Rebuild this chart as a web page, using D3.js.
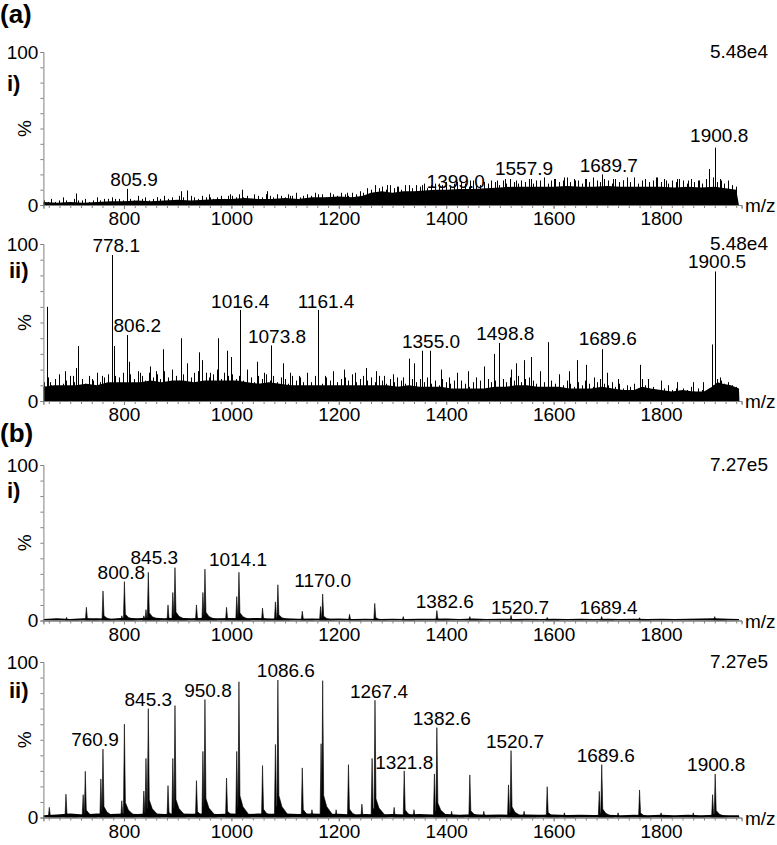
<!DOCTYPE html>
<html>
<head>
<meta charset="utf-8">
<script src="https://cdn.jsdelivr.net/npm/d3@7"></script>
<style>
  body { margin: 0; background: #fff; }
  text { font-family: "Liberation Sans", Arial, sans-serif; fill: #000; }
</style>
</head>
<body>
<div id="chart"></div>
<script>
// shared axis values
const mzRange = [650, 1950]
const mzTicks = [800, 1000, 1200, 1400, 1600, 1800]
const mzMinor = d3.range(660, 1950, 20)
const pctTicks = d3.range(0, 101, 10)

// (a) i)  --  [m/z, % intensity]
const aiMax = "5.48e4"
const aiNoise = [[650,2],[675,1.5],[700,2],[725,1.5],[750,2],[775,2.5],[800,2.5],[825,3],[850,2.5],[875,3],[900,3.5],[925,3],[950,3.5],[975,4],[1000,4],[1025,4.5],[1050,4],[1075,4],[1100,4.5],[1125,4],[1150,5],[1175,5],[1200,5.5],[1225,5],[1245,6],[1260,8],[1280,9],[1300,8],[1320,9],[1340,9],[1360,9.5],[1380,10],[1400,10],[1425,10.5],[1450,10.5],[1475,11],[1500,11.5],[1525,12],[1550,12],[1575,12],[1600,12],[1625,12.5],[1650,12],[1675,12],[1700,12.5],[1725,12],[1750,12],[1775,12],[1800,12],[1825,11.5],[1850,12],[1875,11.5],[1900,12],[1920,11],[1940,10],[1945,0]]
// noise grass, one value every 7 m/z from 651
const aiGrassStart = 651, aiGrassStep = 7
const aiGrass = [3,2,4,2,3,5,3,2,4,3, 3,4,2,3,5,3,4,3,5,4, 4,3,5,4,3,6,4,5,3,4, 5,4,6,4,5,3,6,5,4,6,
  5,4,6,5,7,4,5,6,4,6, 6,5,7,5,6,4,7,6,5,7, 6,5,7,6,5,7,6,8,5,6, 7,6,8,6,7,5,8,7,6,8,
  7,6,8,7,9,8,11,10,12,11, 12,10,13,11,12,10,13,12,11,13, 12,14,11,13,12,14,13,15,12,14, 13,15,14,12,16,14,13,15,14,16,
  15,13,16,14,17,15,14,16,15,17, 14,16,15,18,14,16,17,15,16,18, 15,17,16,14,17,15,18,16,15,17, 16,14,17,15,16,18,15,17,14,16,
  17,15,16,18,15,17,14,16,15,17, 16,14,17,15,16,14,17,16,18,15, 16,14,15,13,12]
const aiPeaks = [[711,7.5],[770,4],[805.9,10.5],[862,5],[906,9],[918,9.5],[960,5],[998,7],[1019,10],[1067,9],[1110,6],[1161,7],[1216,8],[1268,13],[1290,13],[1310,12],[1330,13],[1355,13],[1380,14],[1399,11],[1420,15],[1445,16],[1470,15],[1495,16],[1510,17],[1530,16],[1557.9,17],[1575,16],[1600,17],[1620,18],[1640,16],[1660,17],[1689.7,20],[1710,17],[1730,16],[1750,18],[1770,17],[1790,18],[1810,16],[1830,17],[1850,16],[1870,16],[1890,23.5],[1900.8,37.5],[1910,17],[1925,16]]
const aiLabels = [805.9, 1399.0, 1557.9, 1689.7, 1900.8]

// (a) ii)
const aiiMax = "5.48e4"
const aiiNoise = [[650,9],[670,10],[690,10],[710,10],[730,11],[750,10],[770,12],[790,12],[810,12],[830,12],[850,13],[870,12],[890,13],[910,13],[930,12],[950,13],[970,13],[990,13],[1010,13],[1030,12],[1050,11],[1070,12],[1090,11],[1110,10],[1130,10],[1150,10],[1170,10],[1190,10],[1210,10],[1230,10],[1250,10],[1270,10],[1290,10],[1310,9],[1330,10],[1350,9],[1370,9],[1390,9],[1410,8],[1430,8],[1450,8],[1470,8],[1490,9],[1510,9],[1530,10],[1550,10],[1570,9],[1590,9],[1610,9],[1630,8],[1650,8],[1670,8],[1690,9],[1710,8],[1730,7],[1750,7],[1765,9],[1780,8],[1800,7],[1820,6],[1840,7],[1860,6],[1880,6],[1895,9],[1905,12],[1915,11],[1930,10],[1945,8],[1946,0]]
const aiiGrassStart = 651, aiiGrassStep = 7
const aiiGrass = [12,15,10,14,17,11,13,16,12,15, 14,11,16,13,18,12,15,17,13,16, 15,18,13,17,14,19,16,13,18,15, 17,14,19,15,18,16,13,17,20,15,
  16,19,14,18,15,17,20,14,18,16, 17,14,16,13,18,15,12,16,14,17, 13,16,12,15,14,11,16,13,15,12, 14,12,16,13,11,15,13,16,12,14,
  15,13,17,12,14,16,13,15,12,16, 13,11,14,12,15,13,11,16,14,12, 14,12,15,11,13,10,14,12,11,13, 10,13,11,9,12,10,13,11,14,12,
  13,11,14,12,15,13,16,12,14,15, 13,11,14,12,10,13,11,12,10,13, 11,9,12,10,13,11,9,12,14,11, 10,12,9,11,8,10,9,11,8,14,
  10,8,9,7,9,8,10,7,8,6, 8,7,9,6,8,7,6,8,10,14, 13,11,12,10,9]
const aiiPeaks = [[657,60],[662,12],[690,19],[705,16],[710,21],[714,35],[740,14],[760,16],[778.1,93],[782,35],[806.2,42],[810,25],[830,18],[849,22],[860,19],[872,33],[890,20],[906,40],[918,24],[930,18],[940,31],[946,26],[960,18],[975,40],[992,32],[1000,28],[1016.4,58],[1030,20],[1047,25],[1060,18],[1073.8,35.4],[1096,24],[1110,18],[1125,16],[1140,18],[1161.4,58],[1175,16],[1190,19],[1210,20],[1230,18],[1250,21],[1270,19],[1285,16],[1300,17],[1320,15],[1330,27],[1340,24],[1355,32],[1370,32],[1390,20],[1405,15],[1420,18],[1440,19],[1455,15],[1470,22],[1489,30],[1498.8,37],[1520,20],[1530,24],[1545,26],[1558,28],[1575,19],[1590,37.5],[1610,17],[1628,19],[1643,26],[1660,23],[1675,15],[1689.6,33],[1700,18],[1720,14],[1760,23],[1775,14],[1800,13],[1830,12],[1860,12],[1878,12],[1895,36],[1900.5,82.5],[1910,15]]
const aiiLabels = [778.1, 806.2, 1016.4, 1073.8, 1161.4, 1355.0, 1498.8, 1689.6, 1900.5]

// (b) i)
const biMax = "7.27e5"
const biNoise = [[650,1],[675,1.5],[700,1],[725,1.5],[750,1.5],[775,1.2],[800,1.8],[825,1.5],[850,2],[875,1.5],[900,1.8],[925,1.5],[950,1.8],[975,1.5],[1000,1.6],[1025,1.5],[1050,1.6],[1075,1.3],[1100,1.5],[1125,1.2],[1150,1.3],[1175,1.2],[1200,1.3],[1225,1],[1250,1.2],[1275,1],[1300,1.2],[1325,1],[1350,1.2],[1375,1.2],[1400,1.3],[1425,1],[1450,1.3],[1475,1],[1500,1.2],[1525,1],[1550,1.2],[1575,1],[1600,1.2],[1625,1],[1650,1.2],[1675,1],[1700,1.2],[1725,1],[1750,1.2],[1775,1],[1800,1.2],[1825,1],[1850,1.2],[1875,1.3],[1900,1.5],[1925,1.2],[1945,1],[1946,0]]
const biPeaks = [[693,2],[730,8.5],[761,19],[796,3],[800.8,25],[837,3],[841,7],[845.3,31],[882,10],[891,18],[895,34],[935,10],[947,18],[950.8,33],[991,8.5],[1010,15.4],[1014.1,31],[1058,8],[1082,12],[1086.6,23],[1132,6],[1166,9],[1170.0,17],[1220,4],[1267,11],[1320,2.5],[1382.6,6.4],[1444,2.5],[1520.7,3.2],[1588,2],[1689.4,2.6],[1760,1.8],[1900,2.5]]
const biLabels = [800.8, 845.3, 1014.1, 1170.0, 1382.6, 1520.7, 1689.4]

// (b) ii)
const biiMax = "7.27e5"
const biiNoise = [[650,1.5],[675,2],[700,2.5],[725,2],[750,2.5],[775,2.2],[800,2.5],[825,2.2],[850,2.8],[875,2.3],[900,2.6],[925,2.4],[950,2.6],[975,2.3],[1000,2.6],[1025,2.3],[1050,2.5],[1075,2.4],[1100,2.6],[1125,2.2],[1150,2.5],[1175,2.2],[1200,2.4],[1225,2],[1250,2.2],[1275,2],[1300,2.2],[1325,2],[1350,2.3],[1375,2],[1400,2.2],[1425,1.8],[1450,2.1],[1475,1.8],[1500,2],[1525,1.7],[1550,2],[1575,1.7],[1600,1.9],[1625,1.6],[1650,1.8],[1675,1.6],[1700,1.8],[1725,1.5],[1750,1.8],[1775,1.5],[1800,1.7],[1825,1.5],[1850,1.7],[1875,1.5],[1900,1.8],[1925,1.5],[1945,1.4],[1946,0]]
const biiPeaks = [[661,6.5],[692,15],[724,14.7],[728,29.7],[757,24.8],[760.9,44],[796,10.8],[800.8,60],[837,17],[841,38],[845.3,70],[882,20.5],[891,38],[895,72],[935,23.7],[947,42.5],[950.8,75.9],[991,25.4],[1010,42.5],[1014.1,87.3],[1058,33.4],[1082,47],[1086.6,88.4],[1132,31.9],[1150,5],[1167,47.4],[1170,88],[1195,5],[1218,34],[1243,8.6],[1262,38],[1267.4,75.4],[1303,6.5],[1321.8,30],[1340,5],[1378,28],[1382.6,57.8],[1410,4],[1444,27.4],[1470,4],[1516,21],[1520.7,43],[1545,4],[1588,19.8],[1620,3],[1685,16.8],[1689.6,34],[1720,3],[1760,17.7],[1800,3],[1860,3],[1896,14.7],[1900.8,28]]
const biiLabels = [760.9, 845.3, 950.8, 1086.6, 1267.4, 1321.8, 1382.6, 1520.7, 1689.6, 1900.8]

// layout
const width = 777, height = 845
const xLeft = 43.4, xRight = 741.6
const fontSize = 19

const panels = [
  { tag: "i)", max: aiMax, noise: aiNoise, grass: aiGrass, grassStart: aiGrassStart, grassStep: aiGrassStep,
    peaks: aiPeaks, labels: aiLabels, top: 52, base: 205, tagDy: 31, shape: "stick",
    nudge: { 805.9: [7, -3], 1399.0: [10, 0], 1557.9: [-7, -4], 1689.7: [7, -2], 1900.8: [4, -6] } },
  { tag: "ii)", max: aiiMax, noise: aiiNoise, grass: aiiGrass, grassStart: aiiGrassStart, grassStep: aiiGrassStep,
    peaks: aiiPeaks, labels: aiiLabels, top: 244, base: 401, tagDy: 26, shape: "stick",
    nudge: { 778.1: [4, -3], 806.2: [10, -3], 1016.4: [0, -2], 1073.8: [6, -2], 1161.4: [8, -2], 1355.0: [9, -3], 1498.8: [6, -3], 1689.6: [6, -4], 1900.5: [2, -3] } },
  { tag: "i)", max: biMax, noise: biNoise, grass: [], peaks: biPeaks, labels: biLabels, top: 465, base: 620.5, tagDy: 25, shape: "profile",
    nudge: { 800.8: [-3, -3], 845.3: [6, -8], 1014.1: [-1, -6], 1170.0: [0, -7], 1382.6: [8, -3], 1520.7: [9, -2], 1689.4: [7, -2] } },
  { tag: "ii)", max: biiMax, noise: biiNoise, grass: [], peaks: biiPeaks, labels: biiLabels, top: 662, base: 817.5, tagDy: 28, shape: "profile",
    nudge: { 760.9: [-8, -3], 845.3: [0, -3], 950.8: [3, -2], 1086.6: [8, -3], 1267.4: [4, -2], 1321.8: [0, -2], 1382.6: [5, -3], 1520.7: [4, -3], 1689.6: [4, -3], 1900.8: [1, -3] } }
]

const svg = d3.select("#chart")
  .append("svg")
  .attr("width", width)
  .attr("height", height)

const x = d3.scaleLinear().domain(mzRange).range([xLeft, xRight])

// panel letters
svg.append("text").attr("x", 0).attr("y", 23).style("font-size", "26px").style("font-weight", "bold").text("(a)")
svg.append("text").attr("x", 0).attr("y", 442).style("font-size", "26px").style("font-weight", "bold").text("(b)")

panels.forEach(p => {
  const y = d3.scaleLinear().domain([0, 100]).range([p.base, p.top])
  const g = svg.append("g")

  // dense noise floor
  g.append("path")
    .datum(p.noise)
    .attr("d", d3.area().x(d => x(d[0])).y0(p.base).y1(d => y(d[1])))
    .attr("fill", "#000")

  // noise grass on top of the floor
  g.selectAll("line.gr")
    .data(p.grass)
    .join("line")
    .attr("class", "gr")
    .attr("x1", (d, i) => Math.round(x(p.grassStart + i * p.grassStep)) + 0.5)
    .attr("x2", (d, i) => Math.round(x(p.grassStart + i * p.grassStep)) + 0.5)
    .attr("y1", p.base)
    .attr("y2", d => y(d))
    .attr("stroke", "#000")
    .attr("stroke-width", 1)

  if (p.shape === "stick") {
    g.selectAll("line.pk")
      .data(p.peaks)
      .join("line")
      .attr("class", "pk")
      .attr("x1", d => Math.round(x(d[0])) + 0.5)
      .attr("x2", d => Math.round(x(d[0])) + 0.5)
      .attr("y1", p.base)
      .attr("y2", d => y(d[1]))
      .attr("stroke", "#000")
      .attr("stroke-width", 1)
  } else {
    // narrow peak with a little tail on the high-mass side
    g.selectAll("path.pk")
      .data(p.peaks)
      .join("path")
      .attr("class", "pk")
      .attr("d", d => {
        const px = x(d[0]), h = d[1]
        return "M" + (px - 1) + "," + p.base +
          "L" + px + "," + y(h) +
          "L" + (px + 1) + "," + y(h * 0.16) +
          "L" + (px + 4) + "," + y(h * 0.08) +
          "L" + (px + 9) + "," + y(h * 0.03) +
          "L" + (px + 12) + "," + p.base + "Z"
      })
      .attr("fill", "#000")
      .attr("stroke", "#000")
      .attr("stroke-width", 0.6)
  }

  // peak labels
  g.selectAll("text.lab")
    .data(p.labels)
    .join("text")
    .attr("class", "lab")
    .attr("text-anchor", "middle")
    .style("font-size", fontSize + "px")
    .attr("x", d => x(d) + (p.nudge[d] ? p.nudge[d][0] : 0))
    .attr("y", d => {
      const pk = p.peaks.find(q => q[0] === d)
      return y(pk ? pk[1] : 0) + (p.nudge[d] ? p.nudge[d][1] : -3)
    })
    .text(d => d3.format(".1f")(d))

  // bottom axis: minor ticks, then labelled ticks
  const minor = g.append("g")
    .attr("transform", "translate(0," + p.base + ")")
    .call(d3.axisBottom(x).tickValues(mzMinor).tickSize(3).tickFormat(""))
  const major = g.append("g")
    .attr("transform", "translate(0," + p.base + ")")
    .call(d3.axisBottom(x).tickValues(mzTicks).tickSize(4).tickPadding(3).tickFormat(d3.format("d")))
  major.selectAll("text").style("font-size", fontSize + "px").style("font-family", "Liberation Sans, Arial, sans-serif").attr("fill", "#000")
  ;[minor, major].forEach(a => {
    a.select(".domain").attr("stroke", "#808080")
    a.selectAll("line").attr("stroke", "#808080")
  })

  // left axis
  const left = g.append("g")
    .attr("transform", "translate(" + xLeft + ",0)")
    .call(d3.axisLeft(y).tickValues(pctTicks).tickSize(3).tickPadding(2)
      .tickFormat(d => (d === 0 || d === 100) ? d : ""))
  left.select(".domain").attr("stroke", "#808080")
  left.selectAll("line").attr("stroke", "#808080")
  left.selectAll("text").style("font-size", fontSize + "px").style("font-family", "Liberation Sans, Arial, sans-serif").attr("fill", "#000")

  // axis titles and run label
  g.append("text")
    .attr("transform", "translate(31," + y(50) + ") rotate(-90)")
    .attr("text-anchor", "middle")
    .style("font-size", fontSize + "px")
    .text("%")
  g.append("text")
    .attr("x", 745)
    .attr("y", p.base + 7)
    .style("font-size", fontSize + "px")
    .text("m/z")
  g.append("text")
    .attr("x", 768)
    .attr("y", p.top + 6)
    .attr("text-anchor", "end")
    .style("font-size", fontSize + "px")
    .text(p.max)
  g.append("text")
    .attr("x", p.tag === "i)" ? 7 : 9)
    .attr("y", p.top + p.tagDy + 8)
    .style("font-size", "22px")
    .style("font-weight", "bold")
    .text(p.tag)
})
</script>
</body>
</html>
